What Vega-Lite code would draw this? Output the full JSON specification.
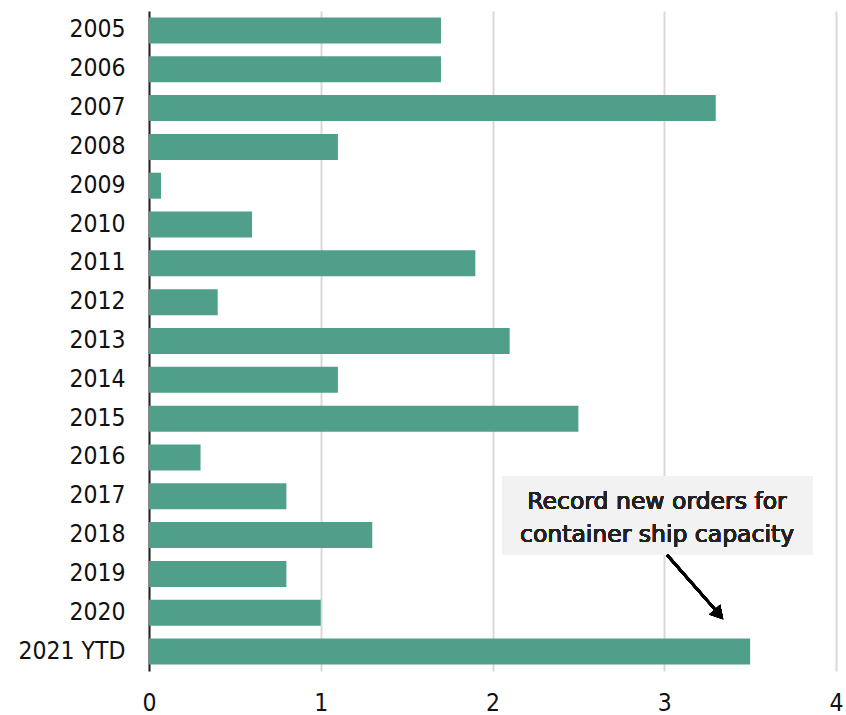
{
  "$schema": "https://vega.github.io/schema/vega-lite/v6.json",
  "width": 687,
  "height": 660,
  "autosize": {"type": "none"},
  "padding": {"left": 149, "top": 11, "right": 10, "bottom": 44},
  "background": "white",
  "config": {
    "view": {"stroke": null},
    "font": "DejaVu Sans Condensed"
  },
  "data": {
    "values": [
      {"year": "2005", "orders": 1.7},
      {"year": "2006", "orders": 1.7},
      {"year": "2007", "orders": 3.3},
      {"year": "2008", "orders": 1.1},
      {"year": "2009", "orders": 0.07},
      {"year": "2010", "orders": 0.6},
      {"year": "2011", "orders": 1.9},
      {"year": "2012", "orders": 0.4},
      {"year": "2013", "orders": 2.1},
      {"year": "2014", "orders": 1.1},
      {"year": "2015", "orders": 2.5},
      {"year": "2016", "orders": 0.3},
      {"year": "2017", "orders": 0.8},
      {"year": "2018", "orders": 1.3},
      {"year": "2019", "orders": 0.8},
      {"year": "2020", "orders": 1.0},
      {"year": "2021 YTD", "orders": 3.5}
    ]
  },
  "layer": [
    {
      "mark": {"type": "bar", "color": "#4f9f8b"},
      "encoding": {
        "y": {
          "field": "year",
          "type": "nominal",
          "sort": null,
          "title": null,
          "scale": {"paddingInner": 0.33, "paddingOuter": 0.165},
          "axis": {
            "domain": true,
            "domainColor": "#222222",
            "domainWidth": 2,
            "ticks": false,
            "grid": false,
            "labelFontSize": 24.5,
            "labelColor": "#111111",
            "labelPadding": 24,
            "labelFont": "DejaVu Sans Condensed"
          }
        },
        "x": {
          "field": "orders",
          "type": "quantitative",
          "title": null,
          "scale": {"domain": [0, 4], "nice": false},
          "axis": {
            "values": [0, 1, 2, 3, 4],
            "domain": false,
            "ticks": false,
            "grid": true,
            "gridColor": "#d9d9d9",
            "gridWidth": 2,
            "labelFontSize": 24.5,
            "labelColor": "#111111",
            "labelPadding": 20,
            "labelFlush": false,
            "labelBound": false,
            "labelFont": "DejaVu Sans Condensed",
            "format": "d"
          }
        }
      }
    },
    {
      "mark": {"type": "rect", "color": "#f2f2f2"},
      "encoding": {
        "x": {"datum": 2.055, "type": "quantitative"},
        "x2": {"datum": 3.866},
        "y": {"datum": 11.98, "type": "quantitative", "scale": {"domain": [0, 17], "reverse": true, "nice": false, "zero": false}, "axis": null},
        "y2": {"datum": 13.99}
      }
    },
    {
      "mark": {"type": "text", "align": "center", "baseline": "middle", "fontSize": 23.5, "fontWeight": "normal", "lineHeight": 33, "color": "#222222", "font": "DejaVu Sans"},
      "encoding": {
        "text": {"datum": ["Record new orders for", "container ship capacity"]},
        "x": {"datum": 2.958, "type": "quantitative"},
        "y": {"datum": 12.65, "type": "quantitative", "scale": {"domain": [0, 17], "reverse": true, "nice": false, "zero": false}, "axis": null}
      }
    },
    {
      "mark": {"type": "rule", "color": "#000000", "strokeWidth": 2.5},
      "encoding": {
        "x": {"datum": 3.016, "type": "quantitative"},
        "x2": {"datum": 3.305},
        "y": {"datum": 14.01, "type": "quantitative", "scale": {"domain": [0, 17], "reverse": true, "nice": false, "zero": false}, "axis": null},
        "y2": {"datum": 15.46}
      }
    },
    {
      "mark": {"type": "point", "shape": "triangle", "filled": true, "color": "#000000", "size": 220, "angle": 138.4, "opacity": 1},
      "encoding": {
        "x": {"datum": 3.31, "type": "quantitative"},
        "y": {"datum": 15.5, "type": "quantitative", "scale": {"domain": [0, 17], "reverse": true, "nice": false, "zero": false}, "axis": null}
      }
    }
  ],
  "resolve": {"scale": {"y": "independent"}, "axis": {"y": "independent"}}
}
